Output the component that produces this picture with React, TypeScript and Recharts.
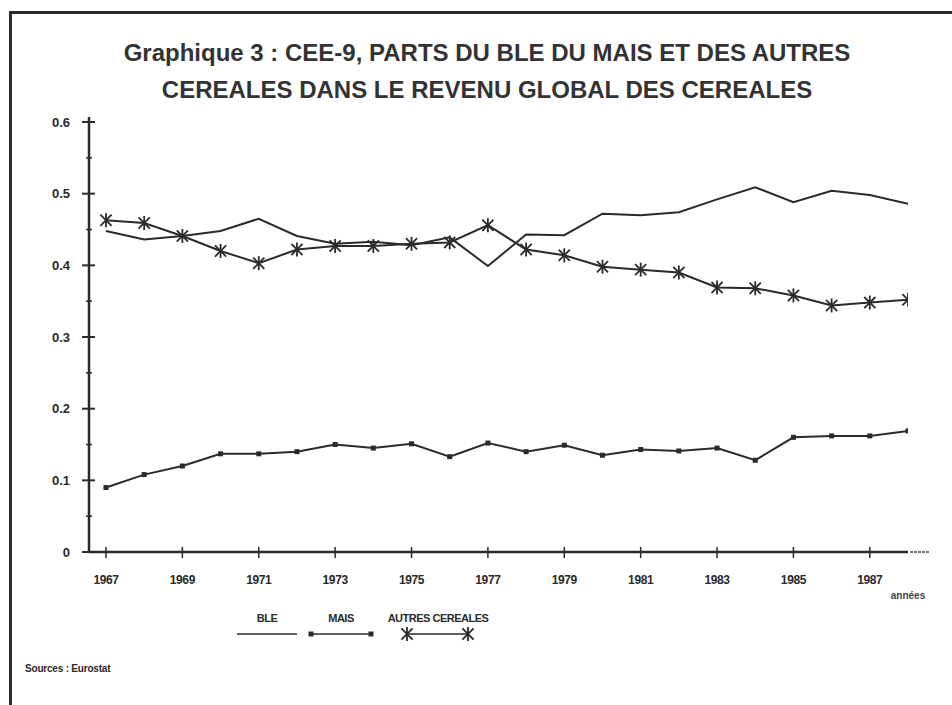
import React from 'react';
import { LineChart, Line, XAxis, YAxis } from 'recharts';

const YEARS = [1967, 1968, 1969, 1970, 1971, 1972, 1973, 1974, 1975, 1976, 1977, 1978, 1979, 1980, 1981, 1982, 1983, 1984, 1985, 1986, 1987, 1988];
const BLE = [0.448, 0.436, 0.441, 0.448, 0.465, 0.441, 0.430, 0.433, 0.428, 0.439, 0.399, 0.443, 0.442, 0.472, 0.470, 0.474, 0.492, 0.509, 0.488, 0.504, 0.498, 0.486];
const MAIS = [0.090, 0.108, 0.120, 0.137, 0.137, 0.140, 0.150, 0.145, 0.151, 0.133, 0.152, 0.140, 0.149, 0.135, 0.143, 0.141, 0.145, 0.128, 0.160, 0.162, 0.162, 0.169];
const AUTRES = [0.463, 0.459, 0.441, 0.420, 0.403, 0.422, 0.427, 0.427, 0.430, 0.432, 0.456, 0.422, 0.414, 0.398, 0.394, 0.390, 0.369, 0.368, 0.358, 0.344, 0.348, 0.352];
const X_TICKS = [1967, 1969, 1971, 1973, 1975, 1977, 1979, 1981, 1983, 1985, 1987];
const Y_TICKS = [0, 0.05, 0.1, 0.15, 0.2, 0.25, 0.3, 0.35, 0.4, 0.45, 0.5, 0.55, 0.6];
const Y_MAJOR = [0, 0.1, 0.2, 0.3, 0.4, 0.5, 0.6];
const SERIES_NAMES = ['BLE', 'MAIS', 'AUTRES CEREALES'];
const TITLE_LINES = ['Graphique 3 : CEE-9, PARTS DU BLE DU MAIS ET DES AUTRES', 'CEREALES DANS LE REVENU GLOBAL DES CEREALES'];
const SOURCE = 'Sources : Eurostat';
const X_LABEL = 'années';

const data = YEARS.map((y, i) => ({ year: y, ble: BLE[i], mais: MAIS[i], autres: AUTRES[i] }));

const INK = '#2a2a2a';
const FONT = '"Liberation Sans", Arial, sans-serif';

const Square = (props: any) => {
  const { cx, cy } = props;
  if (cx == null || cy == null) return null;
  return <rect x={cx - 2.5} y={cy - 2.5} width={5} height={5} fill={INK} />;
};

const Star = (props: any) => {
  const { cx, cy } = props;
  if (cx == null || cy == null) return null;
  const r = 7;
  const d = r * 0.8;
  return (
    <g stroke={INK} strokeWidth={1.8}>
      <line x1={cx} y1={cy - r} x2={cx} y2={cy + r} />
      <line x1={cx - d} y1={cy - d} x2={cx + d} y2={cy + d} />
      <line x1={cx - d} y1={cy + d} x2={cx + d} y2={cy - d} />
    </g>
  );
};

const YTick = (props: any) => {
  const { x, y, payload } = props;
  const v = payload.value;
  const major = Y_MAJOR.some((m) => Math.abs(m - v) < 1e-6);
  if (!major) {
    return <line x1={x - 3} x2={x + 3} y1={y} y2={y} stroke={INK} strokeWidth={1.5} />;
  }
  return (
    <g>
      <line x1={x - 7} x2={x + 6} y1={y} y2={y} stroke={INK} strokeWidth={2} />
      <text x={x - 19} y={y} dy="0.35em" textAnchor="end" fontFamily={FONT} fontWeight="bold" fontSize={13} fill={INK}>
        {v === 0 ? '0' : v.toFixed(1)}
      </text>
    </g>
  );
};

const XTick = (props: any) => {
  const { x, y, payload } = props;
  return (
    <g>
      <line x1={x} x2={x} y1={y - 5} y2={y + 6} stroke={INK} strokeWidth={1.5} />
      <text x={x} y={y + 28} dy="0.35em" textAnchor="middle" fontFamily={FONT} fontWeight="bold" fontSize={12} letterSpacing={-0.4} fill={INK}>
        {payload.value}
      </text>
    </g>
  );
};

const legendItems = [
  { name: SERIES_NAMES[0], cx: 267, x1: 237, x2: 297, marker: null as any },
  { name: SERIES_NAMES[1], cx: 341, x1: 311, x2: 371, marker: Square },
  { name: SERIES_NAMES[2], cx: 438, x1: 407, x2: 468, marker: Star },
];

export default function App() {
  return (
    <div style={{ position: 'relative', width: 952, height: 705, background: '#fff', overflow: 'hidden' }}>
      <style>{`body{margin:0;}`}</style>
      <div
        style={{
          position: 'absolute',
          left: 9,
          top: 11,
          width: 960,
          height: 720,
          borderLeft: `3px solid ${INK}`,
          borderTop: `3px solid ${INK}`,
        }}
      />
      <div
        style={{
          position: 'absolute',
          left: 0,
          top: 34,
          width: 974,
          textAlign: 'center',
          fontFamily: FONT,
          fontWeight: 'bold',
          fontSize: 24,
          lineHeight: '37px',
          color: '#333',
          whiteSpace: 'nowrap',
        }}
      >
        {TITLE_LINES.map((t) => (
          <div key={t}>{t}</div>
        ))}
      </div>
      <div style={{ position: 'absolute', left: 0, top: 0 }}>
        <LineChart width={952} height={705} data={data} margin={{ top: 122, right: 44, bottom: 123, left: 29 }}>
          <XAxis
            dataKey="year"
            type="number"
            domain={[1966.555, 1988]}
            ticks={X_TICKS}
            height={30}
            tickSize={0}
            tickMargin={0}
            tickLine={false}
            axisLine={{ stroke: INK, strokeWidth: 2.5 }}
            tick={<XTick />}
            interval={0}
            allowDataOverflow
          />
          <YAxis
            type="number"
            domain={[0, 0.6]}
            ticks={Y_TICKS}
            width={60}
            tickSize={0}
            tickMargin={0}
            tickLine={false}
            axisLine={{ stroke: INK, strokeWidth: 2.5 }}
            tick={<YTick />}
            interval={0}
          />
          <Line dataKey="ble" stroke={INK} strokeWidth={2} dot={false} isAnimationActive={false} />
          <Line dataKey="mais" stroke={INK} strokeWidth={2} dot={<Square />} isAnimationActive={false} />
          <Line dataKey="autres" stroke={INK} strokeWidth={2} dot={<Star />} isAnimationActive={false} />
        </LineChart>
      </div>
      <svg style={{ position: 'absolute', left: 0, top: 0 }} width={952} height={705}>
        <line x1={89} x2={89} y1={117} y2={123} stroke={INK} strokeWidth={2.5} />
        <line x1={910} x2={929} y1={552} y2={552} stroke="#777" strokeWidth={2} strokeDasharray="3 1" />
        <text x={908} y={595} dy="0.35em" textAnchor="middle" fontFamily={FONT} fontWeight="bold" fontSize={10} fill="#444">
          {X_LABEL}
        </text>
        {legendItems.map((it) => {
          const M = it.marker;
          return (
            <g key={it.name}>
              <text x={it.cx} y={618} dy="0.35em" textAnchor="middle" fontFamily={FONT} fontWeight="bold" fontSize={11} letterSpacing={-0.5} fill={INK}>
                {it.name}
              </text>
              <line x1={it.x1} x2={it.x2} y1={634} y2={634} stroke={INK} strokeWidth={1.5} />
              {M ? <M cx={it.x1} cy={634} /> : null}
              {M ? <M cx={it.x2} cy={634} /> : null}
            </g>
          );
        })}
        <text x={25} y={668} dy="0.35em" fontFamily={FONT} fontWeight="bold" fontSize={10} letterSpacing={-0.2} fill={INK}>
          {SOURCE}
        </text>
      </svg>
    </div>
  );
}
